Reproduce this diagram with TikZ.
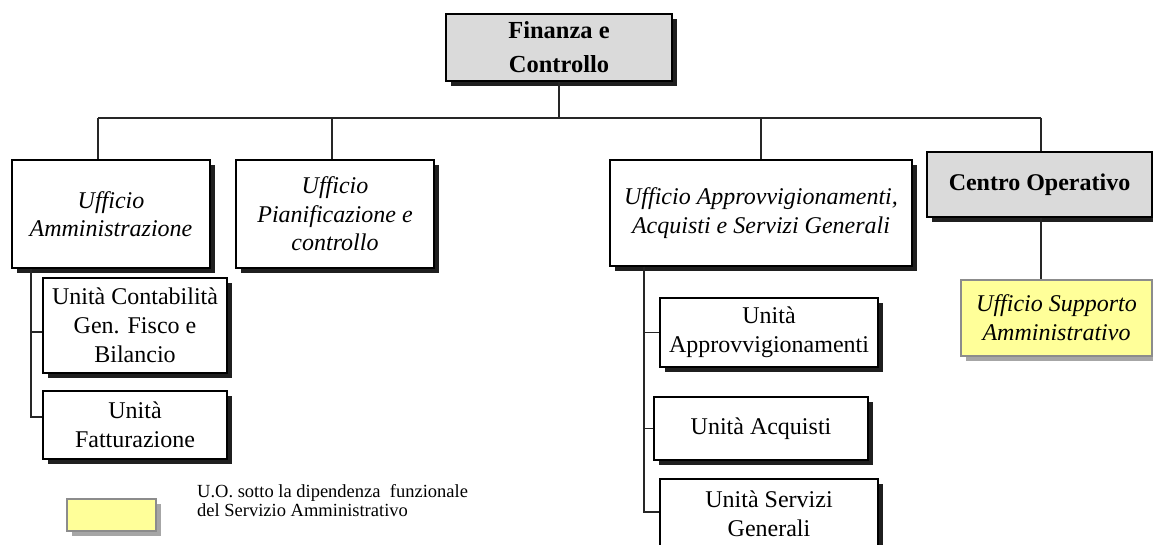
\documentclass[tikz,border=0pt]{standalone}
\usepackage{fontspec}
\setmainfont{Liberation Serif}
\usetikzlibrary{shadows}
\definecolor{boxgray}{HTML}{DADADA}
\definecolor{noteyellow}{HTML}{FFFF99}
\definecolor{noteedge}{HTML}{8C8C8C}
\definecolor{noteshadow}{HTML}{A6A6A6}
\begin{document}
\begin{tikzpicture}[x=1pt,y=-1pt,
  unitbox/.style={draw=black, line width=1.5pt, fill=white, inner sep=0pt,
    align=center, font=\fontsize{24}{29}\selectfont,
    drop shadow={shadow xshift=5pt, shadow yshift=-5pt, fill=black!88, opacity=1}},
  officebox/.style={unitbox, font=\fontsize{24}{28.5}\selectfont\itshape},
  headbox/.style={unitbox, fill=boxgray, font=\fontsize{24.5}{34}\selectfont\bfseries},
  supportbox/.style={draw=noteedge, line width=1.3pt, fill=noteyellow, inner sep=0pt,
    align=center, font=\fontsize{24}{29}\selectfont\itshape,
    drop shadow={shadow xshift=5pt, shadow yshift=-5pt, fill=noteshadow, opacity=1}},
  link/.style={draw=black!85, line width=1.5pt}]
\fill[white] (0,0) rectangle (1153,545);
\useasboundingbox (0,0) rectangle (1153,545);

% top of the hierarchy
\node[headbox, minimum width=226pt, minimum height=67pt] (fin) at (559,47.5) {Finanza e\\Controllo};

% first level offices
\node[officebox, minimum width=198pt, minimum height=108pt] (amm) at (111,214) {Ufficio\\Amministrazione};
\node[officebox, minimum width=198pt, minimum height=108pt] (pian) at (335,214) {Ufficio\\Pianificazione e\\controllo};
\node[officebox, minimum width=302pt, minimum height=106pt] (appr) at (761,213) {Ufficio Approvvigionamenti,\\Acquisti e Servizi Generali};
\node[headbox, font=\fontsize{24}{29}\selectfont\bfseries, minimum width=225pt, minimum height=65pt] (centro) at (1039.5,184.5) {Centro Operativo};
\node[supportbox, minimum width=191pt, minimum height=76pt] (supp) at (1056.5,318) {Ufficio Supporto\\Amministrativo};

% units under Amministrazione
\node[unitbox, minimum width=184pt, minimum height=95pt] (cont) at (135,325.5) {Unità Contabilità\\Gen. Fisco e\\Bilancio};
\node[unitbox, minimum width=184pt, minimum height=68pt] (fatt) at (135,425) {Unità\\Fatturazione};

% units under Approvvigionamenti
\node[unitbox, minimum width=218pt, minimum height=69pt] (uappr) at (769,332.5) {Unità\\Approvvigionamenti};
\node[unitbox, minimum width=214pt, minimum height=63pt] (uacq) at (761,428.5) {Unità Acquisti};
\node[unitbox, minimum width=218pt, minimum height=70pt] (userv) at (769,514) {Unità Servizi\\Generali};

% legend
\node[supportbox, minimum width=89pt, minimum height=32pt] (legbox) at (111.5,515) {};
\node[anchor=north west, inner sep=0pt, align=left, font=\fontsize{18.5}{19.5}\selectfont] (legtext) at (197,484)
  {U.O. sotto la dipendenza\ \ funzionale\\del Servizio Amministrativo};

% connectors
\coordinate (busL) at (98,118);
\coordinate (busR) at (1041,118);
\coordinate (lsub) at (31,0);
\coordinate (rsub) at (644,0);

\draw[link] (fin.south) -- (fin.south |- busL);
\draw[link] (busL) -- (busR);
\draw[link] (busL) -- (busL |- amm.north);
\draw[link] ([xshift=-3pt]pian.north |- busL) -- ([xshift=-3pt]pian.north);
\draw[link] (appr.north |- busL) -- (appr.north);
\draw[link] (busR) -- (busR |- centro.north);
\draw[link] (busR |- centro.south) -- (busR |- supp.north);

\draw[link] (lsub |- amm.south) |- ([yshift=-6.5pt]cont.west);
\draw[link] (lsub |- amm.south) |- ([yshift=8pt]fatt.west);

\draw[link] (rsub |- appr.south) |- (uappr.west);
\draw[link] (rsub |- appr.south) |- (uacq.west);
\draw[link] (rsub |- appr.south) |- ([yshift=2pt]userv.west);
\end{tikzpicture}
\end{document}
